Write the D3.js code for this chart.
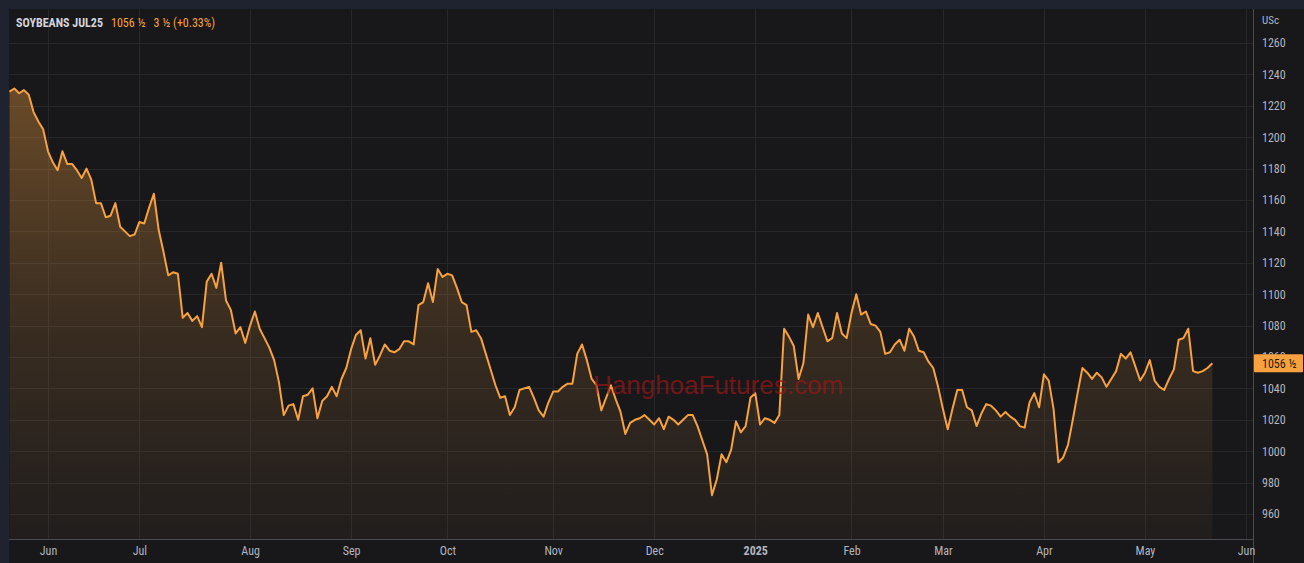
<!DOCTYPE html>
<html>
<head>
<meta charset="utf-8">
<script src="https://cdn.jsdelivr.net/npm/d3@7"></script>
<style>
html,body{margin:0;padding:0;background:#1f2330;}
svg{display:block;}
</style>
</head>
<body>
<svg id="chart" width="1304" height="563"></svg>
<script>
// ---- data ----
const symbol = "SOYBEANS JUL25";
const lastPriceText = "1056 ½";
const changeText = "3 ½ (+0.33%)";
const unitLabel = "USc";
const watermark = "HanghoaFutures.com";

// daily settlement values (US cents / bushel), one per trading day
const prices = [
1229,1231,1228,1230,1227,1216,1210,1205,1191,1184,
1179,1191,1183,1183,1179,1174,1180,1173,1158,1158,
1149,1150,1158,1143,1140,1137,1138,1146,1145,1155,
1164,1141,1127,1112,1114,1113,1085,1088,1083,1086,
1079,1108,1113,1104,1120,1096,1090,1075,1079,1069,
1080,1089,1078,1072,1066,1058,1044,1023,1029,1030,
1020,1035,1036,1040,1021,1032,1035,1041,1035,1046,
1053,1065,1074,1077,1059,1072,1055,1061,1068,1064,
1063,1065,1070,1070,1068,1093,1095,1107,1095,1116,
1111,1113,1112,1104,1095,1093,1076,1077,1072,1062,
1052,1042,1034,1035,1023,1028,1039,1040,1041,1034,
1026,1022,1031,1038,1038,1041,1043,1043,1062,1068,
1058,1046,1042,1026,1034,1042,1033,1025,1011,1018,
1020,1021,1023,1020,1017,1021,1014,1022,1020,1017,
1020,1023,1023,1016,1007,998,972,982,998,993,
1001,1019,1012,1016,1034,1037,1017,1021,1020,1018,
1023,1078,1073,1067,1046,1056,1087,1079,1088,1079,
1070,1072,1088,1075,1072,1088,1100,1087,1089,1081,
1080,1076,1062,1063,1068,1071,1064,1078,1073,1064,
1063,1057,1053,1041,1027,1014,1027,1039,1039,1028,
1026,1016,1024,1030,1029,1026,1022,1025,1022,1020,
1016,1015,1031,1037,1028,1049,1045,1027,993,996,
1004,1020,1037,1053,1050,1046,1050,1047,1041,1046,
1051,1062,1059,1063,1054,1045,1050,1058,1045,1041,
1039,1046,1052,1071,1072,1078,1051,1050,1051,1053,1056
];

// month labels and the trading-day index where each month starts
const monthLabels = ["Jun","Jul","Aug","Sep","Oct","Nov","Dec","2025","Feb","Mar","Apr","May","Jun"];
const monthIndex  = [8,27,50,71,91,113,134,155,175,194,215,236,257];
const yTicks = [960,980,1000,1020,1040,1060,1080,1100,1120,1140,1160,1180,1200,1220,1240,1260];
const lastValue = 1056;

// ---- layout ----
const W = 1304, H = 563;
const plot = {left: 9, top: 9, right: 1253, bottom: 539};
const font = "'Liberation Sans Narrow', 'Roboto Condensed', Roboto, 'Liberation Sans', sans-serif";
const lineColor = "#f7a23e";

const svg = d3.select("#chart");

// background panes
svg.append("rect").attr("x",0).attr("y",0).attr("width",W).attr("height",H).attr("fill","#1f2330");
svg.append("rect").attr("x",plot.left).attr("y",plot.top).attr("width",W-plot.left).attr("height",H-plot.top).attr("fill","#18181b");

const x = d3.scaleLinear().domain([0, 257]).range([9.5, 1246]);
const y = d3.scaleLinear().domain([960, 1260]).range([514, 43]);

// grid
const grid = svg.append("g");
grid.selectAll("line.h").data(yTicks).join("line")
  .attr("x1", plot.left).attr("x2", plot.right)
  .attr("y1", d => Math.round(y(d))+0.5).attr("y2", d => Math.round(y(d))+0.5)
  .attr("stroke", "#26272b").attr("stroke-width", 1);
grid.selectAll("line.v").data(monthIndex).join("line")
  .attr("x1", d => Math.round(x(d))+0.5).attr("x2", d => Math.round(x(d))+0.5)
  .attr("y1", plot.top).attr("y2", plot.bottom)
  .attr("stroke", "#26272b").attr("stroke-width", 1);

// clip
svg.append("clipPath").attr("id","clip").append("rect")
  .attr("x", plot.left).attr("y", plot.top)
  .attr("width", plot.right - plot.left).attr("height", plot.bottom - plot.top);

// gradient
const defs = svg.append("defs");
const grad = defs.append("linearGradient").attr("id","areaGrad")
  .attr("gradientUnits","userSpaceOnUse").attr("x1",0).attr("x2",0)
  .attr("y1", y(1230)).attr("y2", plot.bottom);
grad.append("stop").attr("offset","0%").attr("stop-color","#f7a23e").attr("stop-opacity",0.36);
grad.append("stop").attr("offset","55%").attr("stop-color","#f7a23e").attr("stop-opacity",0.14);
grad.append("stop").attr("offset","100%").attr("stop-color","#f7a23e").attr("stop-opacity",0.04);

const g = svg.append("g").attr("clip-path","url(#clip)");

const area = d3.area().x((d,i) => x(i)).y0(plot.bottom).y1(d => y(d));
const line = d3.line().x((d,i) => x(i)).y(d => y(d));

g.append("path").datum(prices).attr("d", area).attr("fill","url(#areaGrad)");

// watermark
svg.append("text").attr("x", 718).attr("y", 394).attr("text-anchor","middle")
  .attr("font-family","'Liberation Sans', Arial, sans-serif").attr("font-size", 26)
  .attr("fill","#9a1616").attr("fill-opacity",0.7).text(watermark);

g.append("path").datum(prices).attr("d", line).attr("fill","none")
  .attr("stroke", lineColor).attr("stroke-width", 2).attr("stroke-linejoin","round");

// axes separators
svg.append("line").attr("x1", plot.right+0.5).attr("x2", plot.right+0.5).attr("y1", plot.top).attr("y2", H)
  .attr("stroke","#4a4b50").attr("stroke-width",1);
svg.append("line").attr("x1", plot.left).attr("x2", plot.right).attr("y1", plot.bottom+0.5).attr("y2", plot.bottom+0.5)
  .attr("stroke","#4a4b50").attr("stroke-width",1);

// right axis
const yAxis = d3.axisRight(y).tickValues(yTicks).tickSize(0).tickPadding(9).tickFormat(d3.format("d"));
const ya = svg.append("g").attr("transform", `translate(${plot.right},0)`).call(yAxis);
ya.select(".domain").remove();
ya.selectAll("text").attr("fill","#b2b5be").attr("font-size",12).attr("font-family",font);

svg.append("text").attr("x", 1262).attr("y", 24).attr("fill","#b2b5be")
  .attr("font-size",11).attr("font-family",font).text(unitLabel);

// bottom axis
const xAxis = d3.axisBottom(x).tickValues(monthIndex).tickSize(0).tickPadding(7)
  .tickFormat((d,i) => monthLabels[i]);
const xa = svg.append("g").attr("transform", `translate(0,${plot.bottom})`).call(xAxis);
xa.select(".domain").remove();
xa.selectAll("text").attr("fill","#b2b5be").attr("font-size",12).attr("font-family",font)
  .attr("font-weight", (d,i) => monthLabels[i] === "2025" ? "bold" : "normal");

// last price label
const ly = y(lastValue);
svg.append("rect").attr("x", plot.right+1).attr("y", ly-9).attr("width", W-plot.right-2).attr("height", 18)
  .attr("fill", "#f7a23e").attr("rx",1);
svg.append("text").attr("x", 1262).attr("y", ly+4.5).attr("fill","#2b1a05")
  .attr("font-size",12).attr("font-family",font).text(lastPriceText);

// title
const t = svg.append("text").attr("x", 16).attr("y", 27).attr("font-size",12).attr("font-family",font);
t.append("tspan").attr("fill","#d1d4dc").attr("font-weight","bold").text(symbol);
t.append("tspan").attr("dx", 8).attr("fill","#f7a23e").text(lastPriceText);
t.append("tspan").attr("dx", 8).attr("fill","#f7a23e").text(changeText);
</script>
</body>
</html>
